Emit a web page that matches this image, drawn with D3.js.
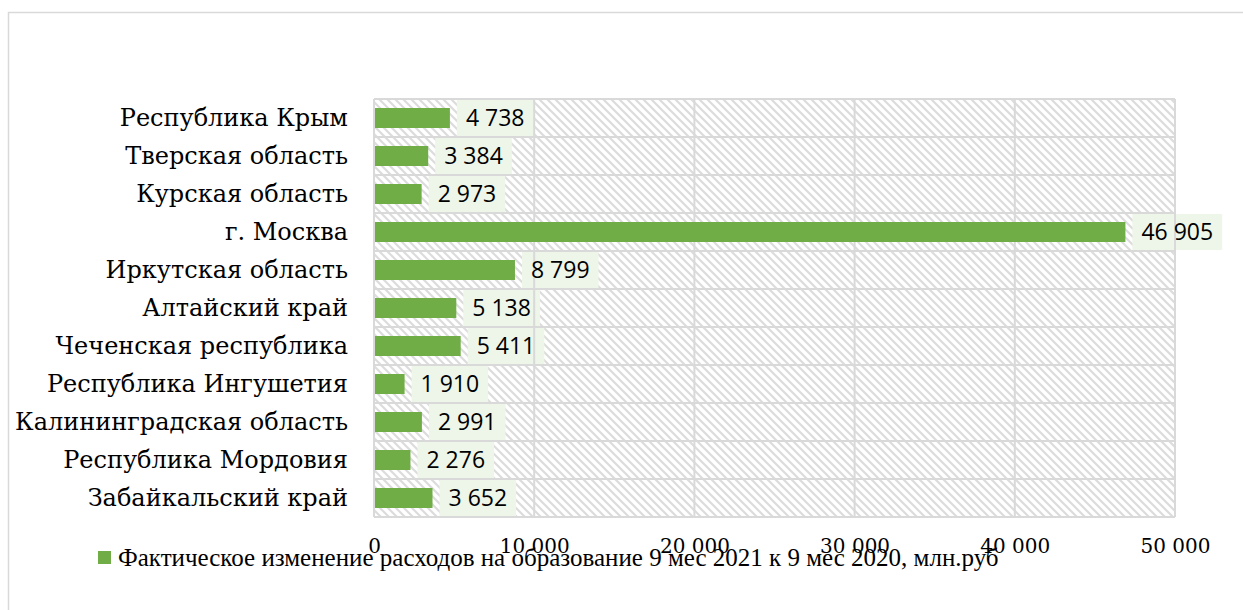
<!DOCTYPE html>
<html>
<head>
    <meta charset="utf-8" />
    <title></title>
    <style>
        body { margin: 0; background: #fff; }
        .cat text { font-family: "DejaVu Serif", serif; font-size: 24px; fill: #000; }
        .val { font-family: "Open Sans", sans-serif; font-size: 23px; fill: #000; }
        .tick text { font-family: "DejaVu Serif", serif; font-size: 20px; fill: #000; }
        .legend { font-family: "Liberation Serif", serif; font-size: 25px; fill: #000; }
    </style>
</head>
<body>
    <div id="bar-chart"></div>
    <script src="https://cdn.jsdelivr.net/npm/d3@7"></script>
    <script>
        var regions = ["Республика Крым", "Тверская область", "Курская область", "г. Москва",
            "Иркутская область", "Алтайский край", "Чеченская республика", "Республика Ингушетия",
            "Калининградская область", "Республика Мордовия", "Забайкальский край"];
        var values = [4738, 3384, 2973, 46905, 8799, 5138, 5411, 1910, 2991, 2276, 3652];
        var tickValues = [0, 10000, 20000, 30000, 40000, 50000];
        var seriesName = "Фактическое изменение расходов на образование 9 мес 2021 к 9 мес 2020, млн.руб";

        var width = 1243, height = 610;
        var green = "#70ad47", grid = "#d9d9d9";
        var fmt = v => d3.format(",")(v).replace(/,/g, " ");

        var svg = d3.select("#bar-chart").append("svg")
            .attr("width", width).attr("height", height);

        // chart frame
        svg.append("rect")
            .attr("x", 8.5).attr("y", 12.5)
            .attr("width", 1260).attr("height", 620)
            .attr("fill", "none").attr("stroke", grid).attr("stroke-width", 1.5);

        var x = d3.scaleLinear().domain([0, 50000]).range([374, 1175]);
        var y = d3.scaleBand().domain(regions).range([99, 517])
            .paddingInner(0.4737).paddingOuter(0.2368);
        var step = y.step();

        // hatched plot background
        var pat = svg.append("defs").append("pattern")
            .attr("id", "hatch").attr("patternUnits", "userSpaceOnUse")
            .attr("width", 8).attr("height", 8);
        pat.append("rect").attr("width", 8).attr("height", 8).attr("fill", "#fff");
        pat.append("path").attr("d", "M-2,-2 L10,10 M-2,6 L2,10 M6,-2 L10,2")
            .attr("stroke", "#dcdcdc").attr("stroke-width", 2.2);

        svg.append("rect")
            .attr("x", x(0)).attr("y", y.range()[0])
            .attr("width", x(50000) - x(0)).attr("height", y.range()[1] - y.range()[0])
            .attr("fill", "url(#hatch)");

        // label boxes (sized after text)
        var boxes = svg.append("g");

        // gridlines
        var g = svg.append("g").attr("stroke", grid).attr("stroke-width", 2);
        g.selectAll("line.v").data(tickValues).join("line").attr("class", "v")
            .attr("x1", d => x(d)).attr("x2", d => x(d))
            .attr("y1", y.range()[0]).attr("y2", y.range()[1]);
        var bounds = regions.map(r => y(r) - step * y.paddingInner() / 2).concat([y.range()[1]]);
        g.selectAll("line.h").data(bounds).join("line").attr("class", "h")
            .attr("x1", x(0)).attr("x2", x(50000))
            .attr("y1", d => d).attr("y2", d => d);

        // bars
        svg.append("g").selectAll("rect").data(values).join("rect")
            .attr("x", x(0) + 1)
            .attr("y", (d, i) => y(regions[i]))
            .attr("width", d => x(d) - x(0) - 1)
            .attr("height", y.bandwidth())
            .attr("fill", green);

        // value labels
        var labels = svg.append("g").selectAll("text").data(values).join("text")
            .attr("class", "val")
            .attr("x", d => x(d) + 16)
            .attr("y", (d, i) => y(regions[i]) + y.bandwidth() / 2)
            .attr("dy", "0.36em")
            .text(d => fmt(d));

        labels.each(function (d, i) {
            var w = this.getComputedTextLength();
            boxes.append("rect")
                .attr("x", x(d) + 7)
                .attr("y", y(regions[i]) - step * y.paddingInner() / 2 + 1)
                .attr("width", w + 18)
                .attr("height", step - 2)
                .attr("fill", "#eef5e9");
        });

        // category axis
        svg.append("g").attr("class", "cat").selectAll("text").data(regions).join("text")
            .attr("x", 348)
            .attr("y", d => y(d) + y.bandwidth() / 2)
            .attr("dy", "0.35em")
            .attr("text-anchor", "end")
            .text(d => d);

        // value axis labels
        var xAxis = svg.append("g").attr("transform", "translate(0,539)")
            .call(d3.axisBottom(x).tickValues(tickValues).tickFormat(fmt).tickSize(0).tickPadding(0));
        xAxis.select(".domain").remove();
        xAxis.selectAll("text").attr("dy", "0.71em");

        // legend
        var leg = svg.append("g");
        leg.append("rect").attr("x", 98).attr("y", 551).attr("width", 13).attr("height", 13).attr("fill", green);
        leg.append("text").attr("class", "legend").attr("x", 118).attr("y", 566).text(seriesName);
    </script>
</body>
</html>
